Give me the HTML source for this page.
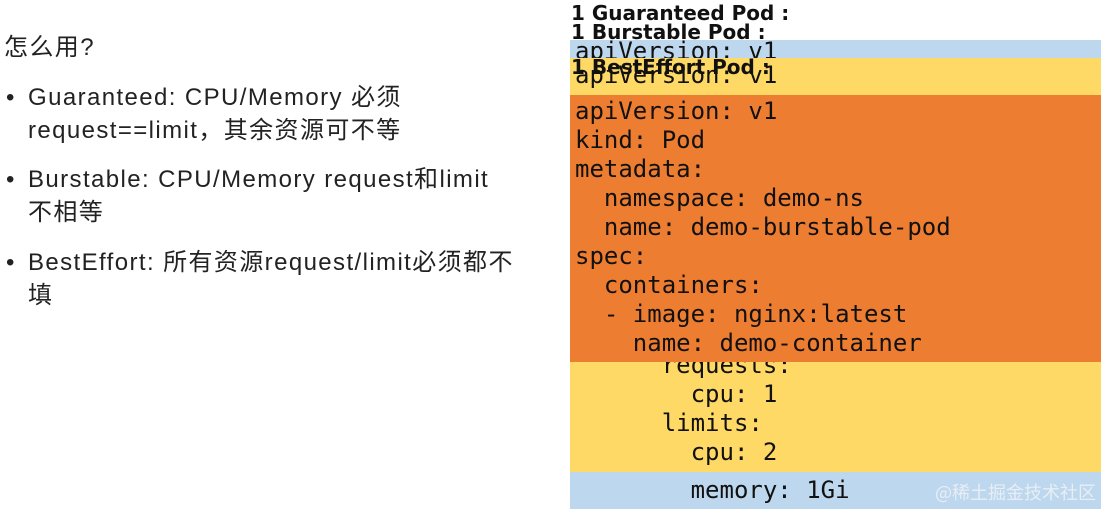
<!DOCTYPE html>
<html><head><meta charset="utf-8"><style>
body{margin:0;width:1101px;height:509px;background:#fff;position:relative;overflow:hidden;font-family:"Liberation Sans","Noto Sans CJK SC",sans-serif;color:#222}
.t{position:absolute;font-size:24px;letter-spacing:1.4px;white-space:nowrap;line-height:33px}
.m{position:absolute;font-family:"DejaVu Sans Mono","Liberation Mono",monospace;font-size:24px;white-space:pre;color:#111;line-height:29px}
.h{position:absolute;font-family:"DejaVu Sans","Liberation Sans",sans-serif;font-weight:bold;font-size:20px;white-space:nowrap;color:#111;line-height:20px}
</style></head><body>
<div class="t" style="left:4px;top:31px">怎么用?</div>
<div class="t" style="left:6px;top:81px">•</div>
<div class="t" style="left:28px;top:81px">Guaranteed: CPU/Memory 必须<br>request==limit，其余资源可不等</div>
<div class="t" style="left:6px;top:163px">•</div>
<div class="t" style="left:28px;top:163px">Burstable: CPU/Memory request和limit<br>不相等</div>
<div class="t" style="left:6px;top:246px">•</div>
<div class="t" style="left:28px;top:246px">BestEffort: 所有资源request/limit必须都不<br>填</div>

<div style="position:absolute;left:570px;top:40px;width:531px;height:469px;background:#bdd7ee"></div>
<div class="m" style="left:575px;top:37px">apiVersion: v1</div>
<div style="position:absolute;left:570px;top:58px;width:531px;height:414px;background:#ffd966"></div>
<div class="m" style="left:575px;top:61px">apiVersion: v1</div>
<div class="m" style="left:575px;top:351px">      requests:
        cpu: 1
      limits:
        cpu: 2</div>
<div class="m" style="left:575px;top:476px">        memory: 1Gi</div>
<div style="position:absolute;left:570px;top:95px;width:531px;height:267px;background:#ed7d31"></div>
<div class="m" style="left:575px;top:97px">apiVersion: v1
kind: Pod
metadata:
  namespace: demo-ns
  name: demo-burstable-pod
spec:
  containers:
  - image: nginx:latest
    name: demo-container</div>
<div class="h" style="left:571px;top:3px">1 Guaranteed Pod :</div>
<div class="h" style="left:571px;top:22px">1 Burstable Pod :</div>
<div class="h" style="left:571px;top:57px">1 BestEffort Pod :</div>
<div style="position:absolute;left:935px;top:479px;font-size:18px;color:#e8eef4;font-family:'Noto Sans CJK SC',sans-serif">@稀土掘金技术社区</div>
</body></html>
